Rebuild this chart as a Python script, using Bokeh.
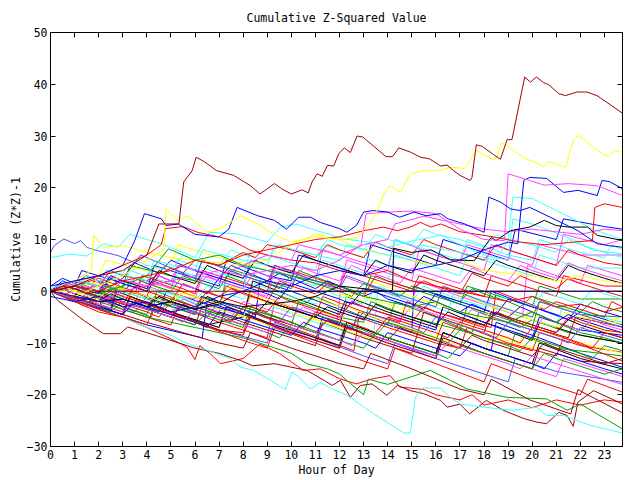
from bokeh.plotting import figure
from bokeh.models import Range1d, FixedTicker, LinearAxis
from bokeh.embed import file_html
from bokeh.resources import INLINE

TITLE = "Cumulative Z-Squared Value"
XLABEL = "Hour of Day"
YLABEL = "Cumulative (Z*Z)-1"
X_TICKS = list(range(0, 24))
Y_TICKS = [-30, -20, -10, 0, 10, 20, 30, 40, 50]

DARKRED = "#a00000"; RED = "#ff0000"; YELLOW = "#ffff00"; BLUE = "#0000ff"
SLATE = "#5050ff"; GREEN = "#00a000"; MAGENTA = "#ff40ff"; CYAN = "#40ffff"
BLACK = "#000000"; NAVY = "#000080"

# each series: list of (hour, cumulative value)
s01 = [(0,0),(1,1),(2,3),(3,4),(4,7),(4.5,13),(5.33,13),(5.53,21.1),(5.88,23.3),(6.05,25.9),(6.4,25),(6.9,23.3),(7.6,22.4),(8.3,20.4),(8.7,18.8),(9.3,20.8),(9.6,19.8),(10.0,18.8),(10.45,19.6),(10.7,19),(10.86,21.1),(11.07,22.7),(11.28,22.2),(11.5,24.3),(11.76,24.2),(11.97,26.6),(12.2,27.7),(12.45,26.8),(12.73,30),(12.97,29.8),(13.35,28.3),(13.93,26),(14.2,26),(14.46,27.7),(14.94,26.9),(15.36,25.9),(15.73,25.6),(16.2,24.2),(16.46,24.4),(16.74,23.3),(17.0,22.4),(17.43,21.4),(17.5,22),(17.68,28.3),(17.92,28),(18.4,26.4),(18.68,25.5),(18.96,29.3),(19.16,29.3),(19.69,41.4),(19.93,40.4),(20.17,41.4),(20.48,40.3),(20.69,39.9),(21.1,38.2),(21.38,37.8),(21.86,38.5),(22.28,38.5),(22.69,37.8),(23.1,36.5),(23.75,34.4)]
s02 = [(0,0),(1,-1),(2,1),(3,3),(4,6),(4.7,8),(4.8,15.9),(5.3,13.7),(5.7,14.6),(6.5,11.4),(7,12),(7.9,14.6),(8.6,13),(9.3,11),(10,9.5),(11,10.5),(12,10),(12.73,10.4),(13.3,13.3),(13.7,16.9),(13.84,18.8),(14.1,20.4),(14.53,19.1),(14.94,22.7),(15.5,23.3),(16.2,23.3),(16.6,24),(17.2,23.7),(17.67,27.2),(18.4,25.3),(18.54,25.9),(18.7,28.7),(18.93,28.2),(19.72,25.6),(20.06,25.1),(20.48,24.1),(20.68,25.1),(21.38,23.9),(21.7,29.1),(21.93,30.2),(22.55,27.8),(22.97,26.4),(23.17,26.1),(23.45,27.2),(23.75,26.8)]
s03 = [(0,1),(1,2),(2,3),(3,5),(3.5,9.8),(3.9,15),(4.6,14),(4.8,12.7),(5.3,13),(6,11),(7,10.5),(7.4,12),(7.75,16.2),(8.6,14.6),(9.3,13.7),(9.8,12),(10.3,14.3),(10.8,14.3),(11.2,13.3),(12,12.1),(12.3,11.4),(12.7,12.7),(13,15.3),(13.4,15.6),(14,15.3),(14.5,14.3),(15.1,15.3),(15.6,14.6),(16.2,15),(16.5,14),(17.2,13),(18,11.4),(18.2,18.2),(18.7,17.2),(19.1,15.9),(19.5,15.6),(19.9,16.2),(20.75,14.3),(21.9,11.7),(22.4,10.1),(22.7,9.2),(23.2,8.8),(23.75,8.5)]
s04 = [(0,0),(1,-1),(2,-2),(3,0),(4,1),(5,2),(6,3),(7,4),(8,3),(9,4),(10,5),(11,4),(12,6),(12.9,9),(13.1,15),(14,15.3),(15,15.5),(16,15),(17,12),(18,10),(18.85,9.8),(19.0,22.7),(19.9,21.4),(20.5,20.5),(21.5,20.8),(22.7,20.4),(23.75,18.5)]
s05 = [(0,-1),(1,-2),(2,-1),(3,-3),(4,-2),(5,-4),(6,-3),(7,-1),(8,0),(9,2),(10,1),(11,3),(12,4),(13,3),(14,5),(15,4),(16,5),(17,6),(18,8),(19,9.5),(19.4,9.2),(19.65,21.4),(19.9,22),(20.6,21.8),(21.3,19.1),(21.9,19.5),(22.7,18.5),(22.9,21.4),(23.2,21.2),(23.75,19.8)]
s06 = [(0,0),(1,1),(2,0),(3,2),(4,3),(5,4),(6,6),(7,5),(8,7),(9,8),(10,9),(11,10),(12,10.5),(13,11.7),(13.84,12.4),(14.4,11.7),(14.94,12.4),(15.36,13.3),(15.8,12.4),(16.2,13),(17,11.5),(18,10.8),(18.5,10.4),(19.5,9.5),(20.5,9),(21.5,9.4),(22.5,9.8),(22.6,16.2),(23,16.9),(23.75,16.2)]
s07 = [(0,0),(1,-1),(2,-2),(3,-1.5),(4,-3),(5,-2),(6,-3.5),(7,-2),(8,-3),(9,-2.5),(10,-2),(11,-1),(12,1),(13,0.5),(14,0),(14.2,0.2),(14.25,8.3),(15,7.5),(15.8,8),(16.6,6.1),(17.6,5.9),(18.3,10.4),(18.5,9.8),(19.1,11.7),(19.9,12.4),(20.5,13.7),(21,12.7),(21.5,12.4),(22.3,12.4),(22.7,10.8),(23.75,9.8)]
s08 = [(0,0.5),(1,2),(2,1),(2.3,4),(4,2),(4.3,6),(6,4),(6.3,8),(8,6),(9,5),(9.3,9),(11,7),(12,6),(12.3,9),(14,7),(15,6),(15.3,9),(17,7.5),(18.5,6),(19,9.8),(19.2,18.2),(20,17.9),(21.7,14),(22.5,12),(23.75,10)]
s09 = [(0,0),(1,1.5),(2,0),(2.3,3),(4,1),(5,2),(5.3,5),(7,3),(8,5),(9,7),(10,6),(10.3,9),(12,7),(13,9),(14,10),(14.3,13),(15.5,14.5),(17,13),(18,12),(19,11.5),(20,12),(21,11.5),(22,11),(23,12),(23.75,11.7)]
s10 = [(0,7.5),(0.15,8.8),(0.55,10.1),(1,9.2),(1.25,9.8),(1.5,8.5),(1.9,7.9),(2.8,6.9),(3.5,5.5),(3.75,7),(5,4.5),(6,2.5),(6.3,6),(8,3),(9,1.5),(9.3,5),(11,2),(12,0.5),(12.3,3),(14,0),(16,-3),(16.3,1),(18,-2),(20,-5),(20.3,-2),(22,-4.5),(23.75,-7)]
s11 = [(0,6.5),(0.8,7.2),(1.5,6.8),(2.2,9.2),(2.8,8.5),(3.3,11),(4,10),(4.6,9.2),(6,6.5),(6.6,11.4),(7.75,11.1),(9,9.5),(9.55,12.4),(10.2,13),(11.07,11.7),(12.2,10.1),(13.5,9.3),(14,8.5),(15.1,9.8),(16.2,10.8),(17.5,8),(18,7),(19,6),(19.2,14),(20,13),(21.7,10),(22.5,8),(23.75,7.2)]
s12 = [(0,0),(1,2),(1.7,4),(1.8,10.8),(2.2,8.5),(3,8.8),(4,7.5),(5,6.5),(6,6),(7,5.5),(8,5),(9,6),(10,9),(11,11),(12,10),(13,8),(14,7),(15,6),(16,5),(17,6),(18,4),(19,3.5),(20,3),(21,2),(22,3),(23,2),(23.75,1.5)]
s13 = [(0,0),(1,1),(2,-0.5),(3,1),(4,3),(4.9,8.2),(5.5,7),(6,6),(7,7),(8,5),(9,4),(10,3),(11,2),(12,1),(13,-1),(14,-2),(15,-3),(16,-2),(17,-4),(18,-5),(19,-6),(20,-4),(21,-6),(22,-8),(23,-9),(23.75,-10)]
s14 = [(0,0),(1,2),(2,3),(3,5),(4,7),(4.6,9),(4.77,12.1),(5.5,12.5),(6.1,11.4),(7,10.5),(7.54,9.8),(8.3,7.9),(9,7),(10,6),(11,5.5),(12,4),(13,3),(14,4),(15,2),(16,1),(17,0),(18,-1),(19,-2),(20,-1),(21,-3),(22,-2.5),(23,-4),(23.75,-3.1)]
s15 = [(0,0),(1.5,-2.5),(2,-1),(3,-3),(4.2,-5),(4.4,0),(6,-3),(7,-4.5),(7.3,3),(9,0),(10.5,-2.5),(11,-1),(13,-5),(14,-6.5),(14.3,-2),(16,-5),(17.5,-8),(17.8,-4),(19.5,-7),(20,-5.5),(21.5,-8),(23.75,-10)]
s16 = [(0,0),(1,-2),(1.3,0),(3,-3.5),(5,-6.5),(5.3,-3),(7,-6),(9,-9),(9.3,-2),(11,-5),(12.5,-7.5),(12.8,-4),(14.5,-7),(16,-9.5),(16.3,-6),(18,-9),(20,-11.5),(20.3,-8),(22,-10.5),(23.75,-11.8)]
s17 = [(0,0.5),(1.5,-2),(2.5,-3.5),(2.75,1),(4.5,-2),(6,-4.5),(6.25,-1),(8.5,-5),(8.7,2),(10,0),(12,-3.5),(13,-5),(15,-8),(15.1,1),(17,-2.5),(18,-4),(18.3,0),(20,-3),(21.5,-5.5),(22,-4),(23.75,-6.5)]
s18 = [(0,0),(1,1),(2,-1),(3.5,-3),(3.75,2),(5.5,-1),(7,-3.5),(8,-5),(8.25,0),(10,-3),(11.9,-6),(12.1,3),(13.5,0.5),(15,-2),(15.3,2),(17,-1),(19.6,-5),(19.8,5),(21,3),(22,1.5),(22.3,5),(23.75,3)]
s19 = [(0,0),(1.5,-2.5),(2,0.5),(3.5,-2),(5,-4.5),(5.25,-1),(7,-4),(9,-7),(9.25,-3),(11,-6),(13.4,-9.5),(13.6,1),(15,-1.5),(16.5,-4),(16.75,0),(19,-4),(21,-7),(21.25,-3),(23.75,-6)]
s20 = [(0,0),(2,-3),(2.25,-1),(4,-3.5),(6,-6.5),(6.3,-3),(8,-6),(10,-9),(11,-10.5),(11.3,-6),(13,-9),(15,-12),(15.5,-4),(17,-6.5),(18,-8),(18.3,-4),(20,-7),(21.5,-9),(21.8,-5),(23.75,-6.9)]
s21 = [(0,0),(1,-1),(1.3,2),(3,-1),(5,-4),(5.3,0),(7,-3),(9,-6.5),(10.5,-9),(10.8,-5),(12.5,-8),(14,-10),(14.3,-6),(16,-9),(18,-12),(18.3,-8),(19.5,-10),(19.8,-4),(21.5,-7),(22,-5),(23.75,-6.3)]
s22 = [(0,0),(1.5,-2.5),(2.5,-4),(2.75,0),(5,-4),(6.5,-6.5),(8,-5),(8.4,2),(10,-1),(12,-4.5),(12.3,-1),(14,-4),(16,-7),(16.3,-3),(18,-6),(20,-9.5),(20.3,-6),(22,-8.5),(23.75,-10)]
s23 = [(0,0),(1,1),(2,2.5),(4,-1),(4.25,2),(6,-1),(7,-2.5),(7.3,1),(9,-2),(11,-5),(11.3,-1),(13,-4),(14.5,-6),(14.8,-2),(16,-4),(18.3,-7),(18.5,0),(20.5,-3.5),(21,-2),(23,-5),(23.3,-2),(23.75,-3)]
s24 = [(0,0),(1,0.5),(3,-3),(4,-4.5),(4.3,-1),(6,-4),(8,-7),(8.3,-3),(10,-6),(12,-9.5),(12.3,-6),(14,-9),(16,-12),(16.3,-8),(18,-11),(19,-12.5),(19.3,-8),(21,-11),(23.75,-12.5)]
s25 = [(0,0),(2,-3.5),(4,-6.5),(6.3,-9),(6.5,-2),(8,-4.5),(10,-8),(11,-9.5),(11.3,-5),(13,-8),(15,-11),(16,-12.5),(16.3,-8),(18.3,-11.5),(18.5,-6),(20,-8.5),(22,-12),(23,-13.5),(23.75,-14.7)]
s26 = [(0,0),(2,-3),(3,-4.5),(3.3,-1),(5,-4),(7,-7.5),(9,-10),(9.3,-6),(11,-9),(13,-12.5),(14,-14),(14.3,-10),(16,-13),(18,-16),(19,-17.5),(19.3,-13),(21,-15.5),(23,-17),(23.75,-17.6)]
s27 = [(0,0),(2,-3.5),(3,-5),(3.3,-1),(5,-4),(7,-7),(7.3,-3),(9,-6),(11,-9.5),(12,-11),(12.3,-7),(14,-10),(16,-13),(16.3,-9),(18,-12),(20,-15),(21,-16.5),(21.3,-13),(23.75,-16.5)]
s28 = [(0,0),(1,-2),(2,-4),(3,-5),(4,-7),(5.26,-9.8),(5.67,-10.8),(6,-13.2),(6.2,-10.5),(6.64,-12.1),(7.06,-14),(8,-13),(8.7,-10.2),(9.5,-12),(10.5,-15.3),(11.2,-15),(12,-16.9),(12.7,-17.9),(13.3,-17),(14.1,-16.3),(14.5,-18.5),(15.5,-19),(16,-20),(17,-21),(17.5,-20),(18,-22),(19,-21),(20,-22.5),(21,-21),(22,-22),(23,-21),(23.75,-21.4)]
s29 = [(0,0),(0.3,-1.8),(1.4,-5.7),(2.2,-8.2),(2.9,-8.2),(3.2,-6.9),(4,-8),(5,-9.5),(6,-11),(7,-12),(7.9,-13.4),(8.4,-14.4),(9.3,-14),(10.65,-15.3),(11.35,-17.2),(11.7,-18.2),(12.04,-17.2),(12.45,-20.5),(12.87,-18.2),(13.35,-17.9),(13.97,-20.1),(14.4,-18.2),(14.94,-19.2),(15.5,-19.8),(16.2,-21.1),(16.47,-22.4),(17,-21.8),(17.4,-23.7),(18.1,-21.1),(18.8,-23),(19.65,-24.6),(20.2,-25.3),(20.6,-25.6),(21.1,-23.4),(21.45,-24),(21.7,-26.1),(21.9,-21.4),(22.55,-19.2),(23.75,-21.8)]
s30 = [(0,0),(1,-1.5),(2,-3),(3,-5),(4,-7),(5,-8.5),(5.53,-9.8),(7.47,-13),(7.9,-14.7),(8.44,-15.3),(9.13,-17.2),(9.75,-19),(10.03,-15.6),(10.31,-16.6),(10.79,-18.9),(11.2,-17.6),(11.62,-18.7),(12.32,-20.1),(13.42,-23.7),(13.97,-25.3),(14.67,-27.4),(14.94,-27.4),(15.15,-20.5),(15.43,-18.7),(16.19,-18.7),(16.6,-20.5),(17.02,-21.8),(18.54,-22.7),(19.23,-23),(20.2,-22.4),(20.6,-24),(21.3,-24),(22.4,-25.9),(23.75,-27.4)]
s31 = [(0,0),(1,-1),(2,-2),(3,-3.5),(4,-5),(5,-6),(6,-7),(7,-8),(8,-9),(9,-10.5),(10,-12),(10.65,-14),(11.5,-15),(12,-16),(13,-20),(13.2,-17),(14,-18),(15,-16.5),(15.77,-15.3),(16.6,-17.2),(17.3,-18.9),(18.95,-20.5),(20.6,-20.8),(21.45,-23),(22,-21.8),(23.75,-26.6)]
s32 = [(0,0),(2,-3),(3,-4.5),(4,-6),(5.5,-8),(7,-10),(8,-11),(8.3,-8),(10,-11),(12,-14),(13,-15),(13.3,-12),(15,-15),(17,-18.9),(18,-20),(18.3,-17),(19.9,-21),(21.6,-23.7),(21.9,-19),(22.3,-20),(23.75,-23.5)]
s33 = [(0,0),(2,-2.5),(3,-4),(3.3,-1),(5,-4.5),(7,-7.5),(8,-8),(8.3,-4),(10,-7),(12.6,-11.5),(12.8,-5),(14,-7),(16,-10),(17,-11),(17.3,-7),(19,-10),(21,-12.5),(21.3,-9),(23.75,-13.5)]
s34 = [(0,0),(1,1.5),(2,3),(2.3,6),(4,4),(5,5),(5.3,9),(7,6.5),(8,5.5),(10,2.5),(12,-0.5),(13,-2),(13.3,2),(15,-1),(16,-2.5),(16.3,1),(18,-2.5),(20,-5.5),(21,-7),(21.3,-4),(23.75,-9)]
s35 = [(0,0),(1,-1),(2,-2),(3,-1.5),(4,-3),(5,-2),(6,-3.5),(7,-2.5),(7.5,-1),(7.9,0),(23.75,0)]
s36 = [(0,0),(0.5,1),(1,0.5),(1.5,-0.5),(2.07,0),(23.75,0)]
s37 = [(0,0),(1,2),(2,1),(2.3,4),(4,2),(5,0.5),(5.3,5),(7,2.5),(8,1),(8.3,6),(10,3.5),(11,2),(11.3,8),(13,5.5),(14,4),(14.3,10),(16,7),(17,5.5),(17.3,9),(19,6.5),(20,5),(20.3,9),(22,7),(23.75,7)]
s38 = [(0,0),(1,1),(1.3,4),(3,1.5),(4,0),(4.3,5),(6,2.5),(7,1),(7.3,6),(9,3),(10,2),(10.3,7),(12,4.5),(13,3),(13.3,9),(15,6.5),(16,5),(16.3,10),(18,7.5),(19,6),(19.3,12),(21,10),(21.3,14),(23,12.5),(23.75,12)]
s39 = [(0,0),(1,2),(2,0),(3,1),(3.3,5),(5,3),(6,2),(6.3,6),(8,3.5),(10,0.5),(10.3,4),(12,1),(13,-0.5),(13.3,3),(15,0.5),(17,-2.5),(17.3,1),(19,-1.5),(20,-3),(20.3,1),(22,-1.5),(23.75,-1.5)]
s40 = [(0,0),(1,-1),(1.3,2),(3,0),(3.3,4),(5,1.5),(5.3,6),(7,3.5),(8,2.5),(8.3,8),(10,5.5),(11,4),(11.3,9),(13,6.5),(14,5),(14.3,10),(16,7.5),(17,6),(17.3,10),(19,7),(20,6),(20.3,10),(22,7.5),(23,6.5),(23.3,9),(23.75,8)]
s41 = [(0,0),(1.5,-1.5),(1.8,2),(3.5,-0.5),(3.8,3),(5.5,0.5),(6,-0.5),(6.3,4),(8,1.5),(9,0),(9.3,5),(11,2.5),(12,1),(12.3,4),(14,1.5),(15,0),(15.3,3),(17,0.5),(18,-1),(18.3,3),(20,0.5),(21,-1),(21.3,3),(23,1),(23.75,1)]
s42 = [(0,0),(2,-3),(3,-4.5),(3.3,-1),(5,-4),(7,-7),(7.3,-3),(9,-6),(11,-9),(12,-10.5),(12.3,-6),(14,-9),(16,-12),(16.3,-8),(18,-11),(20,-14),(20.3,-10),(22,-13),(23.75,-15)]
s43 = [(0,0),(1,-1),(2,-2),(2.3,1),(4,-1.5),(6,-4.5),(6.3,-1),(8,-3.5),(10,-6.5),(10.3,-2),(12,-5),(13,-6),(13.3,-2),(15,-5),(17,-7.5),(17.3,-3),(19,-5.5),(20,-7),(20.3,-2),(22,-4.5),(23.75,-5)]
s44 = [(0,0),(1,-1),(1.3,1),(3,-2),(4.5,-4),(4.8,0),(6.5,-2.5),(8,-4.5),(8.3,-1),(10,-3.5),(12,-6.5),(12.3,-2),(14,-4.5),(16,-7.5),(16.3,-3),(18,-6),(20,-9),(20.3,-5),(22,-7.5),(23.75,-8.5)]
s45 = [(0,0),(1,0.5),(2,1),(3,-1),(3.3,2),(5,-0.5),(6,-1.5),(6.3,3),(8,0.5),(9,-1),(9.3,4),(11,1.5),(12,0.5),(12.3,6),(14,3.5),(15,2),(15.3,8),(17,5.5),(18,4),(18.3,9),(20,6.5),(21,5),(21.3,11),(23,9),(23.75,10)]
s46 = [(0,0),(2,-3),(3,-4.5),(3.3,-1),(5,-4),(7,-7.5),(8,-8.5),(8.3,-5),(10,-8),(12,-11),(12.3,-7),(14,-10),(16,-13),(16.3,-9),(18,-12),(20,-15),(20.3,-11),(22,-13.5),(23.75,-14)]
s47 = [(0,0),(1,1),(2,0),(2.3,3),(4,0.5),(5,-0.5),(5.3,4),(7,1.5),(8,0.5),(8.3,5),(10,2.5),(11,1),(11.3,6),(13,3.5),(14,2),(14.3,7),(16,4.5),(17,3),(17.3,7),(19,4.5),(20,3),(20.3,7),(22,4.5),(23.75,4.5)]
s48 = [(0,0),(1,0),(2,2),(4,-1.5),(4.3,1),(6,-2),(8,-5),(8.3,-1),(10,-4),(12,-7),(12.3,-3),(14,-6),(16,-9),(16.3,-5),(18,-8),(20,-11),(20.3,-7.5),(22,-10),(23.75,-12)]
s49 = [(0,0),(2,-3.5),(4,-6.5),(4.3,-3),(6,-6),(8,-9.5),(9,-11),(9.3,-7),(11,-10),(13,-13.5),(14,-15),(14.3,-11),(16,-14),(18,-17.5),(18.3,-14),(20,-17),(22,-20),(22.3,-17),(23.75,-19.5)]
s50 = [(0,1),(0.5,2.5),(1,1.5),(1.5,3),(2,2),(2.5,1),(3,2.5),(3.5,5.5),(4,4.5),(4.5,3.5),(5,6),(5.5,5),(6,4),(7,2.5),(7.5,5),(8,4),(9,2),(9.5,3.5),(10,2.5),(11,0.5),(11.5,2),(12,1),(13,-1),(13.5,0),(14,-1.5),(15,-3),(15.5,-1),(16,-2),(17,-4),(17.5,-2.5),(18,-3.5),(19,-5),(19.5,-3),(20,-4),(21,-6),(21.5,-4.5),(22,-5.5),(23,-7),(23.75,-8)]
s51 = [(0,0),(0.5,-1),(1,0.5),(1.5,-0.5),(2,-1.5),(2.5,0),(3,-1),(4,-2.5),(4.5,-1),(5,-2),(5.5,1.5),(6,0.5),(7,-1),(7.5,0.5),(8,-0.5),(9,-2),(9.5,2),(10,1),(11,-0.5),(11.5,1.5),(12,0.5),(13,-1),(13.5,3),(14,2),(15,0.5),(15.5,2),(16,1),(17,-0.5),(17.5,3.5),(18,2.5),(19,1),(19.5,3),(20,2),(21,0.5),(21.5,2.5),(22,1.5),(23,0),(23.75,-1)]
s52 = [(0,0),(0.5,1.5),(1,0.5),(2,-1),(2.5,0.5),(3,-0.5),(3.5,2.5),(4,1.5),(5,0),(5.5,3),(6,2),(7,0.5),(7.5,4),(8,3),(9,1.5),(9.5,0.5),(10,3),(11,1.5),(12,0),(12.5,-1),(13,1.5),(14,0),(14.5,-1),(15,1),(16,-0.5),(17,-2),(17.5,0.5),(18,-0.5),(19,-2),(19.5,-3),(20,-1),(21,-2.5),(22,-4),(22.5,-2),(23,-3),(23.75,-4)]
s53 = [(0,0),(0.5,-1),(1,-2),(1.5,-1),(2,-2.5),(3,-4),(3.5,-2),(4,-3),(5,-4.5),(5.5,-1.5),(6,-2.5),(7,-4),(7.5,-5),(8,-2),(9,-3.5),(10,-5),(10.5,-3),(11,-4),(12,-5.5),(12.5,-2),(13,-3),(14,-4.5),(14.5,-5.5),(15,-3),(16,-4.5),(17,-6),(17.5,-3.5),(18,-4.5),(19,-6),(20,-7.5),(20.5,-5),(21,-6),(22,-7.5),(22.5,-5.5),(23,-6.5),(23.75,-7.5)]
s54 = [(0,0),(0.5,0.5),(1,-0.5),(2,-2),(2.5,-0.5),(3,-1.5),(4,-3),(4.5,-1),(5,-2),(6,-3.5),(6.5,-1),(7,-2),(8,-3.5),(8.5,-4.5),(9,-2),(10,-3.5),(11,-5),(11.5,-3),(12,-4),(13,-5.5),(13.5,-2.5),(14,-3.5),(15,-5),(16,-6.5),(16.5,-4),(17,-5),(18,-6.5),(18.5,-4),(19,-5),(20,-6.5),(21,-8),(21.5,-5.5),(22,-6.5),(23,-8),(23.75,-9)]
s55 = [(0,0),(0.5,1),(1,0),(2,-1.5),(2.5,1),(3,0),(4,-1.5),(4.5,0.5),(5,-0.5),(6,-2),(6.5,1),(7,0),(8,-1.5),(8.5,1.5),(9,0.5),(10,-1),(11,-2.5),(11.5,0),(12,-1),(13,-2.5),(13.5,0.5),(14,-0.5),(15,-2),(15.5,1),(16,0),(17,-1.5),(18,-3),(18.5,-0.5),(19,-1.5),(20,-3),(20.5,0),(21,-1),(22,-2.5),(22.5,0.5),(23,-0.5),(23.75,-1.5)]
s56 = [(0,0),(0.5,-1),(1,-2),(1.5,-0.5),(2,-1.5),(3,-3),(3.5,-4),(4,-1),(5,-2.5),(6,-4),(6.5,-5),(7,-2),(8,-3.5),(9,-5),(9.5,-6),(10,-3),(11,-4.5),(12,-6),(12.5,-7),(13,-4),(14,-5.5),(15,-7),(15.5,-8),(16,-5),(17,-6.5),(18,-8),(18.5,-9),(19,-6),(20,-7.5),(21,-9),(21.5,-10),(22,-7),(23,-8.5),(23.75,-9.5)]
s57 = [(0,0),(0.5,-1),(1,-2),(1.5,-3),(2,-1),(3,-2.5),(4,-4),(4.5,-5),(5,-2),(6,-3.5),(7,-5),(7.5,-6),(8,-3),(9,-4.5),(10,-6),(10.5,-7),(11,-4),(12,-5.5),(13,-7),(13.5,-8),(14,-5),(15,-6.5),(16,-8),(16.5,-9),(17,-6),(18,-7.5),(19,-9),(19.5,-10),(20,-7),(21,-8.5),(22,-10),(22.5,-11),(23,-8),(23.75,-9)]
s58 = [(0,0),(0.5,2),(1,1),(2,-0.5),(2.5,2.5),(3,1.5),(4,0),(4.5,3),(5,2),(6,0.5),(6.5,-0.5),(7,2.5),(8,1),(9,-0.5),(9.5,-1.5),(10,1.5),(11,0),(12,-1.5),(12.5,-2.5),(13,0.5),(14,-1),(15,-2.5),(15.5,-3.5),(16,-0.5),(17,-2),(18,-3.5),(18.5,-4.5),(19,-1.5),(20,-3),(21,-4.5),(21.5,-5.5),(22,-2.5),(23,-4),(23.75,-5)]
s59 = [(0,0),(1,-1.5),(1.5,-2.5),(2,0),(3,-1.5),(4,-3),(4.5,-4),(5,-1.5),(6,-3),(7,-4.5),(7.5,-5.5),(8,-3),(9,-4.5),(10,-6),(10.5,-7),(11,-4.5),(12,-6),(13,-7.5),(13.5,-8.5),(14,-6),(15,-7.5),(16,-9),(16.5,-10),(17,-7.5),(18,-9),(19,-10.5),(19.5,-11.5),(20,-9),(21,-10.5),(22,-12),(22.5,-13),(23,-10.5),(23.75,-11.5)]
s60 = [(0,0),(0.5,0.5),(1,-0.5),(2,1),(2.5,0),(3,2),(4,1),(4.5,3),(5,2),(6,0.5),(6.5,3),(7,2),(8,0.5),(8.5,4),(9,3),(10,1.5),(10.5,4.5),(11,3.5),(12,2),(12.5,5),(13,4),(14,2.5),(14.5,1.5),(15,4.5),(16,3),(17,1.5),(17.5,4.5),(18,3.5),(19,2),(19.5,5),(20,4),(21,2.5),(21.5,5.5),(22,4.5),(23,3),(23.75,2)]
s61 = [(0,0),(1,-1.5),(2,-3),(2.5,-1),(3,-2),(4,-3.5),(5,-5),(5.5,-2.5),(6,-3.5),(7,-5),(8,-6.5),(8.5,-4),(9,-5),(10,-6.5),(11,-8),(11.5,-5.5),(12,-6.5),(13,-8),(14,-9.5),(14.5,-7),(15,-8),(16,-9.5),(17,-11),(17.5,-8.5),(18,-9.5),(19,-11),(20,-12.5),(20.5,-10),(21,-11),(22,-12.5),(23,-14),(23.75,-13)]
s62 = [(0,0),(0.5,1),(1,0),(2,-1.5),(2.5,1.5),(3,0.5),(4,-1),(5,-2.5),(5.5,0),(6,-1),(7,-2.5),(7.5,1),(8,0),(9,-1.5),(10,-3),(10.5,-0.5),(11,-1.5),(12,-3),(12.5,0),(13,-1),(14,-2.5),(15,-4),(15.5,-1.5),(16,-2.5),(17,-4),(18,-5.5),(18.5,-2.5),(19,-3.5),(20,-5),(20.5,-2),(21,-3),(22,-4.5),(23,-6),(23.75,-5)]
s63 = [(0,0),(1,-1.5),(2,-3),(3,-4.5),(3.5,-2),(4,-3),(5,-4.5),(6,-6),(6.5,-7),(7,-4),(8,-5.5),(9,-7),(10,-8.5),(10.5,-6),(11,-7),(12,-8.5),(13,-10),(13.5,-11),(14,-8),(15,-9.5),(16,-11),(17,-12.5),(17.5,-10),(18,-11),(19,-12.5),(20,-14),(20.5,-15),(21,-12),(22,-13.5),(23,-15),(23.75,-16)]
s64 = [(0,0),(0.5,1.5),(1,0.5),(2,-1),(3,-2.5),(3.5,1),(4,0),(5,-1.5),(6,-3),(6.5,0),(7,-1),(8,-2.5),(9,-4),(9.5,-1),(10,-2),(11,-3.5),(12,-5),(12.5,-2),(13,-3),(14,-4.5),(15,-6),(15.5,-3),(16,-4),(17,-5.5),(18,-7),(18.5,-4),(19,-5),(20,-6.5),(21,-8),(21.5,-5),(22,-6),(23,-7.5),(23.75,-8)]
s65 = [(0,0),(1,1),(1.5,3),(2,2),(3,3.5),(3.5,6),(4,5),(5,4),(5.5,7),(6,6),(7,5),(7.5,8),(8,7),(9,6),(9.5,9),(10,8),(11,7),(11.5,10),(12,9),(13,8),(13.5,11),(14,10),(15,9),(15.5,12),(16,11),(17,10),(18,8.5),(18.5,11),(19,10),(20,9),(21,7.5),(21.5,10),(22,9),(23,7.5),(23.75,6.5)]
s66 = [(0,0),(1,-1.5),(2,-3),(2.5,-4),(3,-2),(4,-3.5),(5,-5),(6,-6.5),(6.5,-4),(7,-5),(8,-6.5),(9,-8),(9.5,-9),(10,-6.5),(11,-8),(12,-9.5),(13,-11),(13.5,-8),(14,-9),(15,-10.5),(16,-12),(16.5,-13),(17,-10.5),(18,-12),(19,-13.5),(20,-15),(20.5,-12),(21,-13),(22,-14.5),(23,-16),(23.75,-15)]
s67 = [(0,0),(1,1),(2,0),(2.5,3),(3,2),(4,0.5),(4.5,4),(5,3),(6,1.5),(6.5,5),(7,4),(8,2.5),(8.5,6),(9,5),(10,3.5),(10.5,7),(11,6),(12,4.5),(13,3),(13.5,6),(14,5),(15,3.5),(15.5,7),(16,6),(17,4.5),(18,3),(18.5,6),(19,5),(20,3.5),(21,2),(21.5,5),(22,4),(23,2.5),(23.75,1.5)]
s68 = [(0,0),(1,2),(2,1),(2.5,4),(3,3),(4,2),(5,4.5),(5.5,3.5),(6,6),(7,5),(8,7.5),(8.5,6.5),(9,9),(10,8),(11,6.5),(11.5,9),(12,8),(13,6.5),(13.5,9.5),(14,8.5),(15,7),(15.5,10),(16,9),(17,7.5),(18,6),(18.5,9),(19,8),(20,6.5),(21,5),(21.5,8),(22,7),(23,5.5),(23.75,5)]
s69 = [(0,0),(1,-1.5),(2,-3),(2.5,-1),(3,-2),(4,-3.5),(5,-5),(5.5,-6),(6,-3.5),(7,-5),(8,-6.5),(9,-8),(9.5,-5.5),(10,-6.5),(11,-8),(12,-9.5),(12.5,-10.5),(13,-8),(14,-9.5),(15,-11),(16,-12.5),(16.5,-10),(17,-11),(18,-12.5),(19,-14),(19.5,-15),(20,-12.5),(21,-14),(22,-15.5),(23,-17),(23.75,-18)]

SERIES = [s15, s16, s17, s18, s19, s20, s21, s22, s23, s24, s25, s26, s27, s28, s29, s30, s31,
          s32, s33, s34, s37, s38, s39, s40, s41, s42, s43, s44, s45, s46, s47, s48, s49,
          s50, s51, s52, s53, s54, s55, s56, s57, s58, s59, s60, s61, s62, s63, s64, s65,
          s66, s67, s68, s69,
          s10, s11, s12, s13, s14, s08, s09, s07, s06, s05, s04, s03, s02, s36, s35, s01]
COLORS = [GREEN, RED, BLUE, MAGENTA, CYAN, DARKRED, YELLOW, BLACK, RED, GREEN, BLUE, SLATE, MAGENTA, RED, DARKRED, CYAN, GREEN,
          DARKRED, RED, YELLOW, MAGENTA, BLUE, GREEN, CYAN, RED, BLACK, GREEN, BLUE, MAGENTA, DARKRED, CYAN, YELLOW, RED,
          BLUE, RED, GREEN, MAGENTA, BLACK, CYAN, SLATE, RED, BLUE, GREEN, MAGENTA, DARKRED, YELLOW, BLUE, RED, CYAN,
          GREEN, BLACK, RED, MAGENTA,
          SLATE, CYAN, YELLOW, GREEN, RED, CYAN, MAGENTA, BLACK, RED, BLUE, MAGENTA, BLUE, YELLOW, DARKRED, NAVY, DARKRED]

FONT = "DejaVu Sans Mono"
FS = "11.5px"

p = figure(width=640, height=480, output_backend="svg", toolbar_location=None,
           x_range=Range1d(0, 23.75), y_range=Range1d(-30, 50),
           min_border_left=50, min_border_right=18, min_border_top=32, min_border_bottom=34)

for pts, col in zip(SERIES, COLORS):
    p.line([a for a, b in pts], [b for a, b in pts], line_color=col, line_width=1)

p.title.text = TITLE
p.title.align = "center"
p.title.text_font = FONT
p.title.text_font_size = FS
p.title.text_font_style = "normal"
p.title.text_color = "black"
p.title.standoff = 16

p.xgrid.visible = False
p.ygrid.visible = False
p.outline_line_color = "black"
p.outline_line_width = 1
p.background_fill_color = "white"
p.border_fill_color = "white"

for ax, ticks, lab in ((p.xaxis[0], X_TICKS, XLABEL), (p.yaxis[0], Y_TICKS, YLABEL)):
    ax.ticker = FixedTicker(ticks=ticks)
    ax.axis_label = lab
    ax.axis_label_text_font = FONT
    ax.axis_label_text_font_size = FS
    ax.axis_label_text_font_style = "normal"
    ax.axis_label_text_color = "black"
    ax.major_label_text_font = FONT
    ax.major_label_text_font_size = FS
    ax.major_label_text_color = "black"
    ax.major_tick_in = 5
    ax.major_tick_out = 0
    ax.minor_tick_line_color = None
    ax.axis_line_color = "black"
    ax.major_tick_line_color = "black"
    ax.major_label_standoff = 3
    ax.axis_label_standoff = 1

for loc, ticks in (("above", X_TICKS), ("right", Y_TICKS)):
    ax = LinearAxis(ticker=FixedTicker(ticks=ticks))
    ax.major_tick_in = 5
    ax.major_tick_out = 0
    ax.minor_tick_line_color = None
    ax.major_label_text_font_size = "1px"
    ax.major_label_text_alpha = 0
    ax.major_label_standoff = 0
    ax.axis_line_color = "black"
    p.add_layout(ax, loc)

open("out.html", "w").write(file_html(p, INLINE))
